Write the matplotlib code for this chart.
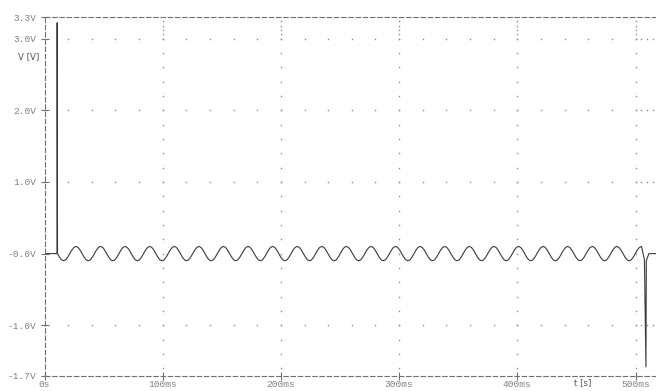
import numpy as np
import matplotlib
matplotlib.use("Agg")
import matplotlib.pyplot as plt

# axis ticks
x_ticks = [0, 100, 200, 300, 400, 500]
x_labels = ["0s", "100ms", "200ms", "300ms", "400ms", "500ms"]
y_ticks = [3.3, 3.0, 2.0, 1.0, 0.0, -1.0, -1.7]
y_labels = ["3.3V", "3.0V", "2.0V", "1.0V", "-0.0V", "-1.0V", "-1.7V"]

# switch-on transient (ms, V)
t_on = [0.0, 10.6, 10.7, 10.9, 11.0]
v_on = [0.0, 0.0, 3.22, 0.15, 0.0]

# ripple, sampled every ripple_dt ms starting at ripple_t0
ripple_t0 = 11.0
ripple_dt = 1.7333
ripple_v = [
    0, -0.05, -0.087, -0.1, -0.087, -0.05, 0, 0.05, 0.087, 0.1, 0.087, 0.05,
    0, -0.05, -0.087, -0.1, -0.087, -0.05, 0, 0.05, 0.087, 0.1, 0.087, 0.05,
    0, -0.05, -0.087, -0.1, -0.087, -0.05, 0, 0.05, 0.087, 0.1, 0.087, 0.05,
    0, -0.05, -0.087, -0.1, -0.087, -0.05, 0, 0.05, 0.087, 0.1, 0.087, 0.05,
    0, -0.05, -0.087, -0.1, -0.087, -0.05, 0, 0.05, 0.087, 0.1, 0.087, 0.05,
    0, -0.05, -0.087, -0.1, -0.087, -0.05, 0, 0.05, 0.087, 0.1, 0.087, 0.05,
    0, -0.05, -0.087, -0.1, -0.087, -0.05, 0, 0.05, 0.087, 0.1, 0.087, 0.05,
    0, -0.05, -0.087, -0.1, -0.087, -0.05, 0, 0.05, 0.087, 0.1, 0.087, 0.05,
    0, -0.05, -0.087, -0.1, -0.087, -0.05, 0, 0.05, 0.087, 0.1, 0.087, 0.05,
    0, -0.05, -0.087, -0.1, -0.087, -0.05, 0, 0.05, 0.087, 0.1, 0.087, 0.05,
    0, -0.05, -0.087, -0.1, -0.087, -0.05, 0, 0.05, 0.087, 0.1, 0.087, 0.05,
    0, -0.05, -0.087, -0.1, -0.087, -0.05, 0, 0.05, 0.087, 0.1, 0.087, 0.05,
    0, -0.05, -0.087, -0.1, -0.087, -0.05, 0, 0.05, 0.087, 0.1, 0.087, 0.05,
    0, -0.05, -0.087, -0.1, -0.087, -0.05, 0, 0.05, 0.087, 0.1, 0.087, 0.05,
    0, -0.05, -0.087, -0.1, -0.087, -0.05, 0, 0.05, 0.087, 0.1, 0.087, 0.05,
    0, -0.05, -0.087, -0.1, -0.087, -0.05, 0, 0.05, 0.087, 0.1, 0.087, 0.05,
    0, -0.05, -0.087, -0.1, -0.087, -0.05, 0, 0.05, 0.087, 0.1, 0.087, 0.05,
    0, -0.05, -0.087, -0.1, -0.087, -0.05, 0, 0.05, 0.087, 0.1, 0.087, 0.05,
    0, -0.05, -0.087, -0.1, -0.087, -0.05, 0, 0.05, 0.087, 0.1, 0.087, 0.05,
    0, -0.05, -0.087, -0.1, -0.087, -0.05, 0, 0.05, 0.087, 0.1, 0.087, 0.05,
    0, -0.05, -0.087, -0.1, -0.087, -0.05, 0, 0.05, 0.087, 0.1, 0.087, 0.05,
    0, -0.05, -0.087, -0.1, -0.087, -0.05, 0, 0.05, 0.087, 0.1, 0.087, 0.05,
    0, -0.05, -0.087, -0.1, -0.087, -0.05, 0, 0.05, 0.087, 0.1, 0.087, 0.05,
    0, -0.05, -0.087, -0.1, -0.087, -0.05, 0, 0.05, 0.087, 0.1,
]

# switch-off transient (ms, V)
t_off = [507.5, 508.8, 509.1, 511.3, 517.3]
v_off = [-0.08, -1.58, -0.1, 0.0, 0.0]

t_end = 517.3

ripple_t = list(ripple_t0 + ripple_dt * np.arange(len(ripple_v)))
t = t_on + ripple_t + t_off
v = v_on + ripple_v + v_off

mono = "Liberation Mono"
grey = "#707070"

fig = plt.figure(figsize=(6.56, 3.91), dpi=100)
ax = fig.add_axes([44.5 / 656, 15.5 / 391, 1 - 44.5 / 656, 358.5 / 391])

# dotted grid: rows every 1 V with a dot every 20 ms, columns every 100 ms
# with a dot every 0.2 V (denser near the top and past 500 ms)
gx, gy = [], []
for yr in [3.0, 2.0, 1.0, -1.0]:
    for tx in list(range(20, 501, 20)) + [505, 510, 515]:
        gx.append(tx)
        gy.append(yr)
for tc in [100, 200, 300, 400, 500]:
    for yc in list(np.arange(-1.6, 3.01, 0.2)) + [3.06, 3.12, 3.18, 3.24]:
        gx.append(tc)
        gy.append(yc)
ax.plot(gx, gy, ls="none", marker="s", ms=1.0, mew=0, color="#8a8a8a")

ax.plot(t, v, color="#3a3a3a", lw=0.8)

ax.set_xlim(0, t_end)
ax.set_ylim(-1.7, 3.3)

ax.spines["right"].set_visible(False)
for side in ["top", "left", "bottom"]:
    ax.spines[side].set_linestyle((0, (4, 2.5)))
    ax.spines[side].set_color(grey)
    ax.spines[side].set_linewidth(0.8)

ax.set_xticks(x_ticks)
ax.set_xticklabels(x_labels, fontfamily=mono, fontsize=6.8, color="#808080")
ax.set_yticks(y_ticks)
ax.set_yticklabels(y_labels, fontfamily=mono, fontsize=6.8, color="#808080")
ax.tick_params(direction="inout", length=6, width=0.8, color=grey)
ax.tick_params(axis="x", pad=0.3)
ax.tick_params(axis="y", pad=3)

fig.text(18 / 656, 1 - 57 / 391, "V [V]", fontsize=6.2, color="#555555", va="center")
fig.text(574 / 656, 1 - 383 / 391, "t [s]", fontsize=6.2, color="#555555", va="center")

fig.savefig("out.png", dpi=100)
